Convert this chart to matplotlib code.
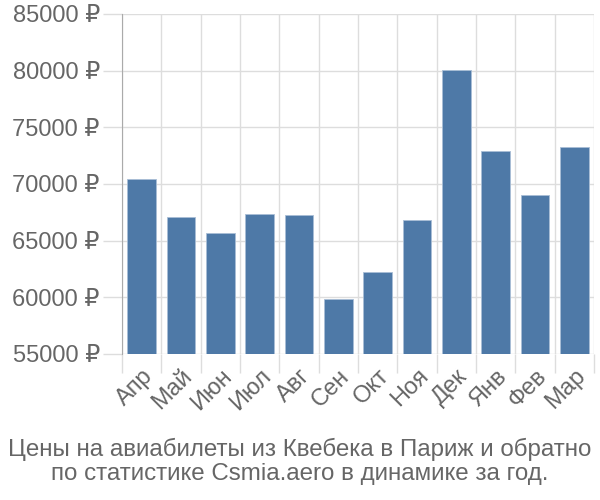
import numpy as np
import matplotlib
matplotlib.use('Agg')
import matplotlib.pyplot as plt
from matplotlib.ticker import FuncFormatter

plt.rcParams['font.family'] = ['Liberation Sans', 'DejaVu Sans']

months = ['Апр', 'Май', 'Июн', 'Июл', 'Авг', 'Сен', 'Окт', 'Ноя', 'Дек', 'Янв', 'Фев', 'Мар']
prices = [70450, 67060, 65650, 67330, 67240, 59830, 62240, 66850, 80090, 72890, 69000, 73240]
yticks = [55000, 60000, 65000, 70000, 75000, 80000, 85000]
title = 'Цены на авиабилеты из Квебека в Париж и обратно\nпо статистике Csmia.aero в динамике за год.'

BAR = '#4e79a7'
GRID = '#dddddd'
TEXT = '#666666'

fig = plt.figure(figsize=(6, 5), dpi=100)
ax = fig.add_axes([122 / 600, 1 - 354 / 500, 472 / 600, 340 / 500])

x = np.arange(len(months))
ax.bar(x, prices, width=0.73, color=BAR, edgecolor='#a9bed6', linewidth=0.6, zorder=3)

ax.set_xlim(-0.5, len(months) - 0.5)
ax.set_ylim(yticks[0], yticks[-1])

ax.set_yticks(yticks)
ax.yaxis.set_major_formatter(FuncFormatter(lambda v, p: '%d ₽' % v))
ax.set_xticks(x)
ax.set_xticklabels(months, rotation=45, ha='right', va='top', rotation_mode='anchor')
ax.set_xticks(np.arange(len(months) + 1) - 0.5, minor=True)

ax.tick_params(axis='y', length=14, color=GRID, width=1, labelsize=17, labelcolor=TEXT, pad=2)
ax.tick_params(axis='x', which='major', length=0, labelsize=17, labelcolor=TEXT, pad=8)
ax.tick_params(axis='x', which='minor', length=14, color=GRID, width=1)

ax.grid(axis='y', color=GRID, linewidth=1, zorder=0)
ax.grid(axis='x', which='minor', color=GRID, linewidth=1, zorder=0)

for s in ['top', 'right', 'bottom']:
    ax.spines[s].set_visible(False)
ax.spines['left'].set_color('#aaaaaa')
ax.spines['left'].set_zorder(4)

fig.text(0.5, 1 - 461 / 500, title, ha='center', va='center', fontsize=17.4,
         color=TEXT, linespacing=1.12)

fig.savefig('out.png', dpi=100)
